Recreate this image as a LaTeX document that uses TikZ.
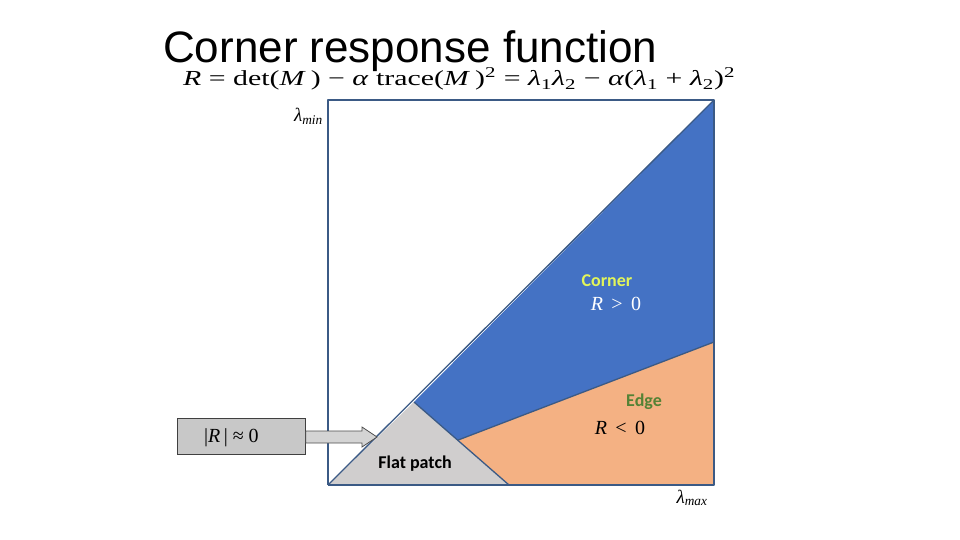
\documentclass[tikz,border=0pt]{standalone}
\usepackage{graphicx}
\usepackage{fontspec}
\usetikzlibrary{calc}
\newfontfamily\titlefont{Liberation Sans}
\newfontfamily\lblfont{Carlito}
\newfontfamily\formfont{Liberation Serif}
\definecolor{cblue}{HTML}{4472C4}
\definecolor{corange}{HTML}{F4B183}
\definecolor{cgray}{HTML}{D0CECE}
\definecolor{cline}{HTML}{3B5A85}
\definecolor{cyel}{HTML}{E2F55A}
\definecolor{cgreen}{HTML}{548235}
\definecolor{cboxfill}{HTML}{C8C8C8}
\definecolor{carrowfill}{HTML}{D4D4D4}
\newcommand{\fit}[1]{\textit{#1}}
\begin{document}
\begin{tikzpicture}[x=1pt,y=-1pt,
  region/.style={draw=cline,line width=1.3pt,line join=round},
  lbl/.style={font=\lblfont\bfseries\fontsize{18}{21}\selectfont,inner sep=0pt},
  mlbl/.style={inner sep=0pt,font=\formfont\fontsize{20}{24}\selectfont}]
\useasboundingbox (0,0) rectangle (960,540);
% corners
\coordinate (BL) at (328,485);
\coordinate (TL) at (328,100);
\coordinate (TR) at (714,100);
\coordinate (BR) at (714,485);
\coordinate (apex) at (414,402);
\coordinate (gR) at (509,485);
\coordinate (mid) at ($(apex)!0.46!(gR)$);
\coordinate (eR) at (714,342);
% regions
\fill[cblue] (apex) -- (TR) -- (eR) -- (mid) -- cycle;
\fill[corange] (mid) -- (eR) -- (BR) -- (gR) -- cycle;
\fill[cgray] (BL) -- (apex) -- (gR) -- cycle;
\draw[region] (BL) -- (TR);
\draw[region] (apex) -- (gR);
\draw[region] (mid) -- (eR);
\draw[region] (BL) -- (TL) -- (TR) -- (BR) -- (BL);
% title and formula
\node[anchor=base west,inner sep=0pt,font=\titlefont\fontsize{44}{50}\selectfont] (title) at (163,63) {Corner response function};
\node[anchor=base west,inner sep=0pt] (formula) at (183,86) {\resizebox{552pt}{18pt}{\formfont\fontsize{20}{24}\selectfont
  \fit{R} = det(\fit{M}\,) − \fit{α} trace(\fit{M}\,)\textsuperscript{2} = \fit{λ}\textsubscript{1}\fit{λ}\textsubscript{2} − \fit{α}(\fit{λ}\textsubscript{1} + \fit{λ}\textsubscript{2})\textsuperscript{2}}};
% axis labels
\node[anchor=base east,inner sep=0pt,font=\formfont\fontsize{19}{22}\selectfont] (lmin) at (323,122) {\fit{λ}\textsubscript{\fit{min}}};
\node[anchor=base,inner sep=0pt,font=\formfont\fontsize{19}{22}\selectfont] (lmax) at (692,503) {\fit{λ}\textsubscript{\fit{max}}};
% region labels
\node[lbl,text=cyel] (corner) at (607,281) {Corner};
\node[mlbl,text=white] (rpos) at (616,304) {\fit{R}\, {>}\, 0};
\node[lbl,text=cgreen] (edge) at (644,402) {Edge};
\node[mlbl,text=black] (rneg) at (620,428) {\fit{R}\, {<}\, 0};
\node[lbl,text=black] (flat) at (415,464) {Flat patch};
% left box and arrow
\node[draw=black!75,fill=cboxfill,line width=0.8pt,minimum width=128pt,minimum height=36pt,inner sep=0pt,anchor=north west] (rbox) at (177,418) {};
\node[mlbl,anchor=west] (rlabel) at (204,438) {|\fit{R}\,| ≈ 0};
\coordinate (tip) at (377,437);
\draw[draw=black!70,fill=carrowfill,line width=0.8pt]
  (rbox.east |- 0,431) -- (362,431) -- (362,427) -- (tip) -- (362,447) -- (362,443) -- (rbox.east |- 0,443) -- cycle;
\end{tikzpicture}
\end{document}
